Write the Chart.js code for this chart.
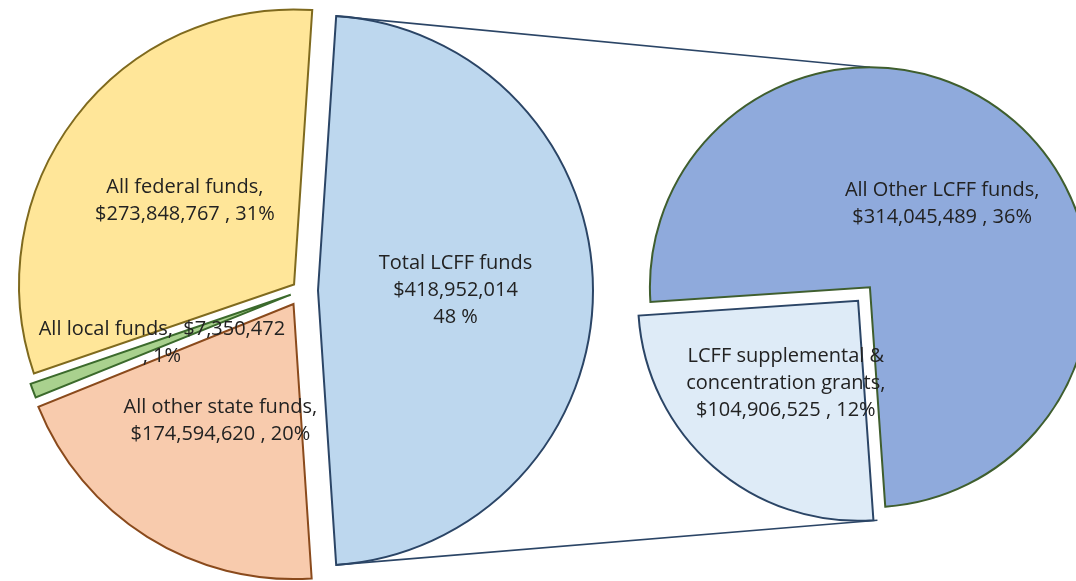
<!DOCTYPE html>
<html>
<head>
<meta charset="utf-8">
<script src="https://cdn.jsdelivr.net/npm/chart.js@4.4.0/dist/chart.umd.min.js"></script>
<style>
  html, body { margin: 0; padding: 0; background: #fff; }
  #wrap { position: relative; width: 1076px; height: 581px; }
  #wrap canvas { position: absolute; left: 0; top: 0; }
</style>
</head>
<body>
<div id="wrap">
  <canvas id="main-pie" width="1076" height="581"></canvas>
  <canvas id="sub-pie" width="1076" height="581"></canvas>
</div>
<script>
// Main pie: all funds
const mainNames = ['Total LCFF funds', 'All other state funds', 'All local funds', 'All federal funds'];
const mainValues = [418952014, 174594620, 7350472, 273848767];
const mainLabelLines = [
    ['Total LCFF funds', '$418,952,014', '48 %'],
    ['All other state funds,', '$174,594,620 , 20%'],
    ['All local funds,  $7,350,472', ', 1%'],
    ['All federal funds,', '$273,848,767 , 31%']
];

// Second pie: split of the LCFF funds
const subNames = ['LCFF supplemental & concentration grants', 'All Other LCFF funds'];
const subValues = [104906525, 314045489];
const subLabelLines = [
    ['LCFF supplemental &', 'concentration grants,', '$104,906,525 , 12%'],
    ['All Other LCFF funds,', '$314,045,489 , 36%']
];

function shiftOf(arc, d) {
    const mid = (arc.startAngle + arc.endAngle) / 2;
    return { dx: Math.cos(mid) * d, dy: Math.sin(mid) * d, mid: mid };
}

// draws each slice pulled out from the centre, then its text label
const explodedSlices = {
    id: 'explodedSlices',
    beforeDatasetDraw(chart, args, opts) {
        const ctx = chart.ctx;
        args.meta.data.forEach((arc, i) => {
            const s = shiftOf(arc, opts.explode[i]);
            ctx.save();
            ctx.translate(s.dx, s.dy);
            arc.draw(ctx, chart.chartArea);
            ctx.restore();
        });
        return false;
    },
    afterDatasetsDraw(chart, args, opts) {
        const ctx = chart.ctx;
        ctx.save();
        ctx.font = '20px "Open Sans"';
        ctx.fillStyle = '#222222';
        ctx.textAlign = 'center';
        ctx.textBaseline = 'middle';
        chart.getDatasetMeta(0).data.forEach((arc, i) => {
            const s = shiftOf(arc, opts.explode[i]);
            const r = arc.outerRadius * 0.5;
            const x = arc.x + s.dx + Math.cos(s.mid) * r;
            const y = arc.y + s.dy + Math.sin(s.mid) * r;
            const lines = opts.lines[i];
            lines.forEach((t, k) => {
                ctx.fillText(t, x, y + (k - (lines.length - 1) / 2) * 27);
            });
        });
        ctx.restore();
    }
};

const mainExplode = [16, 16, 12, 10];
const mainTotal = mainValues.reduce((a, b) => a + b, 0);

const mainChart = new Chart(document.getElementById('main-pie'), {
    type: 'pie',
    data: {
        labels: mainNames,
        datasets: [{
            data: mainValues,
            backgroundColor: ['#BDD7EE', '#F8CBAD', '#A9D18E', '#FFE699'],
            borderColor: ['#2B4566', '#8A4A1C', '#3B6A2C', '#7F6A1E'],
            borderWidth: 2,
            borderJoinStyle: 'miter'
        }]
    },
    options: {
        responsive: false,
        animation: false,
        events: [],
        radius: 275,
        // centre the LCFF slice on the horizontal axis
        rotation: 90 - (mainValues[0] / mainTotal) * 180,
        layout: { padding: { left: 0, right: 472, top: 0, bottom: 0 } },
        plugins: {
            legend: { display: false },
            tooltip: { enabled: false },
            explodedSlices: { explode: mainExplode, lines: mainLabelLines }
        }
    },
    plugins: [explodedSlices]
});

const subExplode = [9, 9];

// lines joining the LCFF slice to the second pie
const seriesLines = {
    id: 'seriesLines',
    beforeDatasetsDraw(chart) {
        const ctx = chart.ctx;
        const lcff = mainChart.getDatasetMeta(0).data[0];
        const ls = shiftOf(lcff, mainExplode[0]);
        const lr = lcff.outerRadius;
        const topA = { x: lcff.x + ls.dx + Math.cos(lcff.startAngle) * lr, y: lcff.y + ls.dy + Math.sin(lcff.startAngle) * lr };
        const botA = { x: lcff.x + ls.dx + Math.cos(lcff.endAngle) * lr, y: lcff.y + ls.dy + Math.sin(lcff.endAngle) * lr };

        const arcs = chart.getDatasetMeta(0).data;
        const other = arcs[1];
        const os = shiftOf(other, subExplode[1]);
        const topB = { x: other.x + os.dx, y: other.y + os.dy - other.outerRadius };
        const supp = arcs[0];
        const ss = shiftOf(supp, subExplode[0]);
        const botB = { x: supp.x + ss.dx + Math.cos(supp.startAngle) * supp.outerRadius + 4, y: supp.y + ss.dy + Math.sin(supp.startAngle) * supp.outerRadius };

        ctx.save();
        ctx.strokeStyle = '#2B4566';
        ctx.lineWidth = 1.6;
        ctx.beginPath();
        ctx.moveTo(topA.x, topA.y);
        ctx.lineTo(topB.x, topB.y);
        ctx.moveTo(botA.x, botA.y);
        ctx.lineTo(botB.x, botB.y);
        ctx.stroke();
        ctx.restore();
    }
};

const subChart = new Chart(document.getElementById('sub-pie'), {
    type: 'pie',
    data: {
        labels: subNames,
        datasets: [{
            data: subValues,
            backgroundColor: ['#DEEBF7', '#8FAADC'],
            borderColor: ['#2B4566', '#3F5E2E'],
            borderWidth: 2,
            borderJoinStyle: 'miter'
        }]
    },
    options: {
        responsive: false,
        animation: false,
        events: [],
        radius: 220,
        rotation: 176,
        layout: { padding: { left: 652, right: 0, top: 7, bottom: 0 } },
        plugins: {
            legend: { display: false },
            tooltip: { enabled: false },
            explodedSlices: { explode: subExplode, lines: subLabelLines }
        }
    },
    plugins: [seriesLines, explodedSlices]
});
</script>
</body>
</html>
